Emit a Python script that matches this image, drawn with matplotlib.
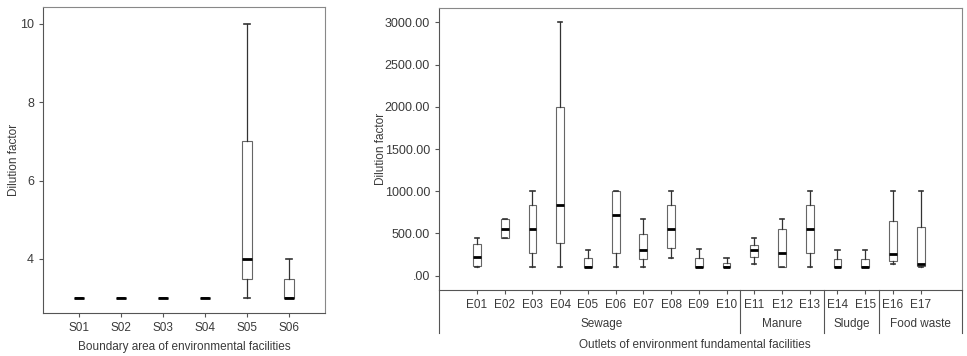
import matplotlib
matplotlib.use('Agg')
import matplotlib.pyplot as plt
import matplotlib.transforms as mtransforms
from matplotlib import font_manager
from matplotlib.ticker import FuncFormatter

# boundary area (S) box statistics
s_labels = ['S01', 'S02', 'S03', 'S04', 'S05', 'S06']
s_min = [3, 3, 3, 3, 3, 3]
s_q1 = [3, 3, 3, 3, 3.5, 3]
s_med = [3, 3, 3, 3, 4, 3]
s_q3 = [3, 3, 3, 3, 7, 3.5]
s_max = [3, 3, 3, 3, 10, 4]

# outlets (E) box statistics
e_labels = ['E%02d' % i for i in range(1, 18)]
e_min = [100, 445, 100, 100, 100, 100, 100, 206, 100, 100, 142, 100, 100, 100, 100, 142, 100]
e_q1 = [118, 445, 272, 383, 100, 272, 198, 324, 100, 100, 218, 100, 272, 100, 100, 174, 118]
e_med = [221, 557, 557, 833, 100, 723, 304, 557, 100, 100, 300, 272, 557, 100, 100, 253, 135]
e_q3 = [371, 667, 833, 2000, 206, 1000, 490, 833, 206, 154, 368, 557, 833, 198, 198, 644, 573]
e_max = [450, 667, 1000, 3000, 304, 1000, 667, 1000, 312, 213, 450, 667, 1000, 300, 300, 1000, 1000]

group_names = ['Sewage', 'Manure', 'Sludge', 'Food waste']
group_sizes = [10, 3, 2, 2]
group_label_x = [5.5, 12.0, 14.5, 17.0]

available = {f.name for f in font_manager.fontManager.ttflist}
narrow = 'Liberation Sans Narrow' in available
plt.rcParams['font.family'] = ['Liberation Sans Narrow' if narrow else 'Liberation Sans', 'DejaVu Sans']
fs = 10 if narrow else 8.5
txt = '#3a3a3a'


def make_stats(labels, lo, q1, med, q3, hi):
    return [dict(label=l, whislo=a, q1=b, med=c, q3=d, whishi=e, fliers=[])
            for l, a, b, c, d, e in zip(labels, lo, q1, med, q3, hi)]


def draw_boxes(ax, stats, width, capwidth):
    ax.bxp(stats, positions=range(1, len(stats) + 1), widths=width, capwidths=capwidth,
           showfliers=False, patch_artist=True,
           boxprops=dict(facecolor='white', edgecolor='#666666', linewidth=0.8),
           medianprops=dict(color='black', linewidth=2.0, solid_capstyle='butt'),
           whiskerprops=dict(color='#333333', linewidth=0.9),
           capprops=dict(color='#333333', linewidth=1.2))


def style_axes(ax):
    for side in ['left', 'bottom']:
        ax.spines[side].set_color('#555555')
    for side in ['top', 'right']:
        ax.spines[side].set_color('#888888')
    ax.tick_params(direction='out', length=3, width=0.8, colors='#555555',
                   labelcolor=txt, labelsize=fs)
    ax.tick_params(axis='y', labelsize=fs + 0.5)


fig = plt.figure(figsize=(9.67, 3.56), dpi=100)

# left panel
ax1 = fig.add_axes([0.0445, 0.1208, 0.2916, 0.8596])
draw_boxes(ax1, make_stats(s_labels, s_min, s_q1, s_med, s_q3, s_max), 0.24, 0.15)
ax1.set_xlim(0.143, 6.857)
ax1.set_ylim(2.62, 10.43)
ax1.set_yticks([4, 6, 8, 10])
style_axes(ax1)
ax1.set_ylabel('Dilution factor', fontsize=fs, color=txt)
ax1.yaxis.set_label_coords(-0.08, 0.5)
ax1.set_xlabel('Boundary area of environmental facilities', fontsize=fs, color=txt)
ax1.xaxis.set_label_coords(0.5, -0.09)

# right panel
ax2 = fig.add_axes([0.454, 0.1854, 0.5408, 0.7921])
draw_boxes(ax2, make_stats(e_labels, e_min, e_q1, e_med, e_q3, e_max), 0.28, 0.15)
ax2.set_xlim(-0.37, 18.49)
ax2.set_ylim(-169, 3169)
ax2.set_yticks([0, 500, 1000, 1500, 2000, 2500, 3000])
ax2.yaxis.set_major_formatter(FuncFormatter(lambda v, p: ('%.2f' % v).lstrip('0')))
style_axes(ax2)
ax2.set_ylabel('Dilution factor', fontsize=fs, color=txt)
ax2.yaxis.set_label_coords(-0.1, 0.5)

# group table below the right panel
trans = mtransforms.blended_transform_factory(ax2.transData, ax2.transAxes)
bottom = -0.1525
ax2.plot([0, 0], [0, bottom], transform=ax2.transAxes, color='#555555', lw=0.8, clip_on=False)
ax2.plot([1, 1], [0, bottom], transform=ax2.transAxes, color='#555555', lw=0.8, clip_on=False)
edge = 0.5
for size in group_sizes[:-1]:
    edge += size
    ax2.plot([edge, edge], [0, bottom], transform=trans, color='#555555', lw=0.8, clip_on=False)
for name, gx in zip(group_names, group_label_x):
    ax2.text(gx, -0.121, name, transform=trans, ha='center', va='center', fontsize=fs, color=txt)
ax2.text(0.489, -0.196, 'Outlets of environment fundamental facilities', transform=ax2.transAxes,
         ha='center', va='center', fontsize=fs, color=txt)

fig.savefig('out.png', dpi=100)
